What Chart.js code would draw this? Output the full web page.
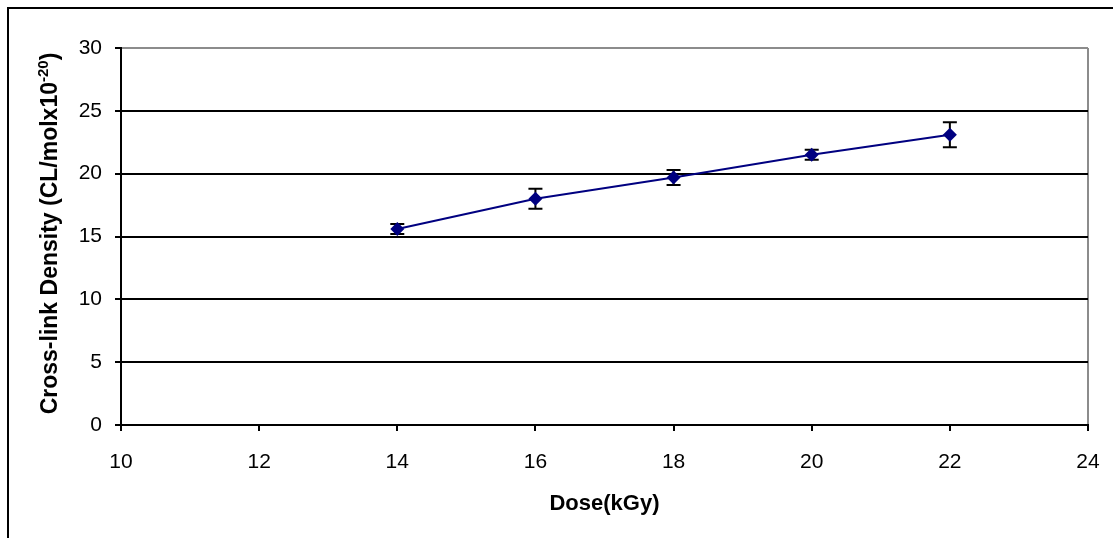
<!DOCTYPE html>
<html>
<head>
<meta charset="utf-8">
<script src="https://cdn.jsdelivr.net/npm/chart.js@4"></script>
<style>
  html, body { margin: 0; padding: 0; background: #fff; overflow: hidden; }
  #wrap { position: relative; width: 1113px; height: 538px; }
  #frame { position: absolute; left: 7px; top: 7px; width: 1200px; height: 600px;
           border-top: 2px solid #000; border-left: 2px solid #000; }
  #dose-chart { position: absolute; left: 0; top: 0; }
</style>
</head>
<body>
<div id="wrap">
  <div id="frame"></div>
  <canvas id="dose-chart" width="1113" height="538"></canvas>
</div>
<script>
// dose (kGy) vs cross-link density
var doses = [14, 16, 18, 20, 22];
var density = [15.6, 18.0, 19.7, 21.5, 23.1];
var densityErr = [0.4, 0.8, 0.6, 0.4, 1.0];
var xTicks = [10, 12, 14, 16, 18, 20, 22, 24];
var yTicks = [0, 5, 10, 15, 20, 25, 30];

var fontFamily = '"Liberation Sans", Arial, sans-serif';

var chartData = doses.map(function (d, i) {
  return { x: d, y: density[i] };
});

// error bars, drawn under the markers
var errorBars = {
  id: 'errorBars',
  beforeDatasetsDraw: function (chart) {
    var ctx = chart.ctx;
    var xs = chart.scales.x, ys = chart.scales.y;
    ctx.save();
    ctx.strokeStyle = '#000';
    ctx.lineWidth = 2;
    doses.forEach(function (d, i) {
      var px = xs.getPixelForValue(d);
      var top = ys.getPixelForValue(density[i] + densityErr[i]);
      var bot = ys.getPixelForValue(density[i] - densityErr[i]);
      ctx.beginPath();
      ctx.moveTo(px, top); ctx.lineTo(px, bot);
      ctx.moveTo(px - 7, top); ctx.lineTo(px + 7, top);
      ctx.moveTo(px - 7, bot); ctx.lineTo(px + 7, bot);
      ctx.stroke();
    });
    ctx.restore();
  }
};

// y title with the superscript exponent
var yTitle = {
  id: 'yTitle',
  afterDraw: function (chart) {
    var ctx = chart.ctx;
    var area = chart.chartArea;
    var main = 'Cross-link Density (CL/molx10';
    var sup = '-20';
    var tail = ')';
    var bigFont = 'bold 23px ' + fontFamily;
    var smallFont = 'bold 15px ' + fontFamily;
    ctx.save();
    ctx.font = bigFont;
    var w1 = ctx.measureText(main).width;
    var w3 = ctx.measureText(tail).width;
    ctx.font = smallFont;
    var w2 = ctx.measureText(sup).width;
    var total = w1 + w2 + w3;
    ctx.translate(49, (area.top + area.bottom) / 2 - 3);
    ctx.rotate(-Math.PI / 2);
    ctx.fillStyle = '#000';
    ctx.textBaseline = 'alphabetic';
    ctx.textAlign = 'left';
    var x0 = -total / 2;
    var base = 8;
    ctx.font = bigFont;
    ctx.fillText(main, x0, base);
    ctx.font = smallFont;
    ctx.fillText(sup, x0 + w1, base - 9);
    ctx.font = bigFont;
    ctx.fillText(tail, x0 + w1 + w2, base);
    ctx.restore();
  }
};

new Chart(document.getElementById('dose-chart'), {
  type: 'line',
  data: {
    datasets: [{
      data: chartData,
      borderColor: '#000080',
      backgroundColor: '#000080',
      borderWidth: 2,
      pointStyle: 'rectRot',
      pointRadius: 7,
      pointHoverRadius: 7,
      pointBorderWidth: 0,
      tension: 0,
      fill: false
    }]
  },
  options: {
    responsive: false,
    animation: false,
    events: [],
    layout: { padding: { left: 0, top: 48, right: 25, bottom: 0 } },
    plugins: {
      legend: { display: false },
      tooltip: { enabled: false }
    },
    scales: {
      x: {
        type: 'linear',
        min: 10,
        max: 24,
        afterBuildTicks: function (scale) {
          scale.ticks = xTicks.map(function (v) { return { value: v }; });
        },
        afterFit: function (scale) {
          scale.height = 113;
          scale.paddingLeft = 0;
          scale.paddingRight = 0;
        },
        ticks: {
          color: '#000',
          padding: 19,
          maxRotation: 0,
          font: { family: fontFamily, size: 21 }
        },
        grid: {
          drawOnChartArea: true,
          color: function (c) { return c.tick && c.tick.value === 24 ? '#8c8c8c' : 'rgba(0,0,0,0)'; },
          tickColor: '#000',
          tickLength: 6,
          lineWidth: 2
        },
        border: { color: '#000', width: 2 },
        title: {
          display: true,
          text: 'Dose(kGy)',
          color: '#000',
          padding: { top: 0, bottom: 21 },
          font: { family: fontFamily, size: 22, weight: 'bold' }
        }
      },
      y: {
        min: 0,
        max: 30,
        afterBuildTicks: function (scale) {
          scale.ticks = yTicks.map(function (v) { return { value: v }; });
        },
        afterFit: function (scale) { scale.width = 121; },
        ticks: {
          color: '#000',
          padding: 13,
          font: { family: fontFamily, size: 21 }
        },
        grid: {
          color: function (c) { return c.tick && c.tick.value === 30 ? '#8c8c8c' : '#000'; },
          tickColor: '#000',
          tickLength: 6,
          lineWidth: 2
        },
        border: { color: '#000', width: 2 }
      }
    }
  },
  plugins: [errorBars, yTitle]
});
</script>
</body>
</html>
